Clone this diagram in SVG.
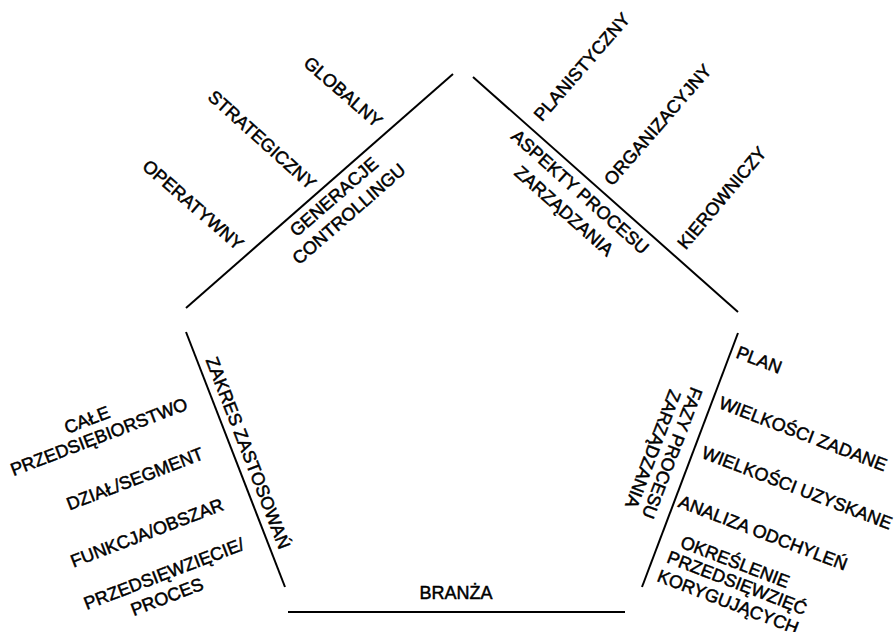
<svg xmlns="http://www.w3.org/2000/svg" width="895" height="632" viewBox="0 0 895 632">
<style>
text{font-family:"Liberation Sans",Arial,sans-serif;font-size:18px;fill:#000;stroke:#000;stroke-width:0.5;text-anchor:middle}
.edge{stroke:#000;stroke-width:2;fill:none}
</style>
<rect width="895" height="632" fill="#fff"/>
<g id="connectors">
<line class="edge" x1="186" y1="308" x2="453" y2="74"/>
<line class="edge" x1="473" y1="77" x2="738" y2="312"/>
<line class="edge" x1="186" y1="332" x2="285" y2="587"/>
<line class="edge" x1="738" y1="333" x2="642" y2="587"/>
<line class="edge" x1="288" y1="612" x2="625" y2="612"/>
</g>
<g id="generacje">
<text transform="translate(334,197) rotate(-41)" y="6">GENERACJE</text>
<text transform="translate(349,214) rotate(-41)" y="6">CONTROLLINGU</text>
<text transform="translate(343,92) rotate(41)" y="6">GLOBALNY</text>
<text transform="translate(262,140) rotate(42)" y="6">STRATEGICZNY</text>
<text transform="translate(193,205) rotate(41)" y="6">OPERATYWNY</text>
</g>
<g id="aspekty">
<text transform="translate(580,192) rotate(41.6)" y="6">ASPEKTY PROCESU</text>
<text transform="translate(564,211) rotate(41.6)" y="6">ZARZĄDZANIA</text>
<text transform="translate(582,67) rotate(-49)" y="6">PLANISTYCZNY</text>
<text transform="translate(658,125) rotate(-49)" y="6">ORGANIZACYJNY</text>
<text transform="translate(722,198) rotate(-50)" y="6">KIEROWNICZY</text>
</g>
<g id="zakres">
<text transform="translate(248,453) rotate(68.8)" y="6">ZAKRES ZASTOSOWAŃ</text>
<text transform="translate(87,420) rotate(-21)" y="6">CAŁE</text>
<text transform="translate(99,437) rotate(-21)" y="6">PRZEDSIĘBIORSTWO</text>
<text transform="translate(135,479) rotate(-21)" y="6">DZIAŁ/SEGMENT</text>
<text transform="translate(147,533) rotate(-21)" y="6">FUNKCJA/OBSZAR</text>
<text transform="translate(164,574) rotate(-21)" y="6">PRZEDSIĘWZIĘCIE/</text>
<text transform="translate(167,597) rotate(-21)" y="6">PROCES</text>
</g>
<g id="fazy">
<text transform="translate(672,453) rotate(111)" y="6">FAZY PROCESU</text>
<text transform="translate(653,449) rotate(111)" y="6">ZARZĄDZANIA</text>
<text transform="translate(759,360) rotate(21)" y="6">PLAN</text>
<text transform="translate(803,434) rotate(21)" y="6">WIELKOŚCI ZADANE</text>
<text transform="translate(797,488) rotate(21)" y="6">WIELKOŚCI UZYSKANE</text>
<text transform="translate(763,533) rotate(21)" y="6">ANALIZA ODCHYLEŃ</text>
<text transform="translate(735,562) rotate(21)" y="6">OKREŚLENIE</text>
<text transform="translate(737,583) rotate(21)" y="6">PRZEDSIĘWZIĘĆ</text>
<text transform="translate(728,602) rotate(21)" y="6">KORYGUJĄCYCH</text>
</g>
<g id="branza">
<text x="456" y="599">BRANŻA</text>
</g>
</svg>
